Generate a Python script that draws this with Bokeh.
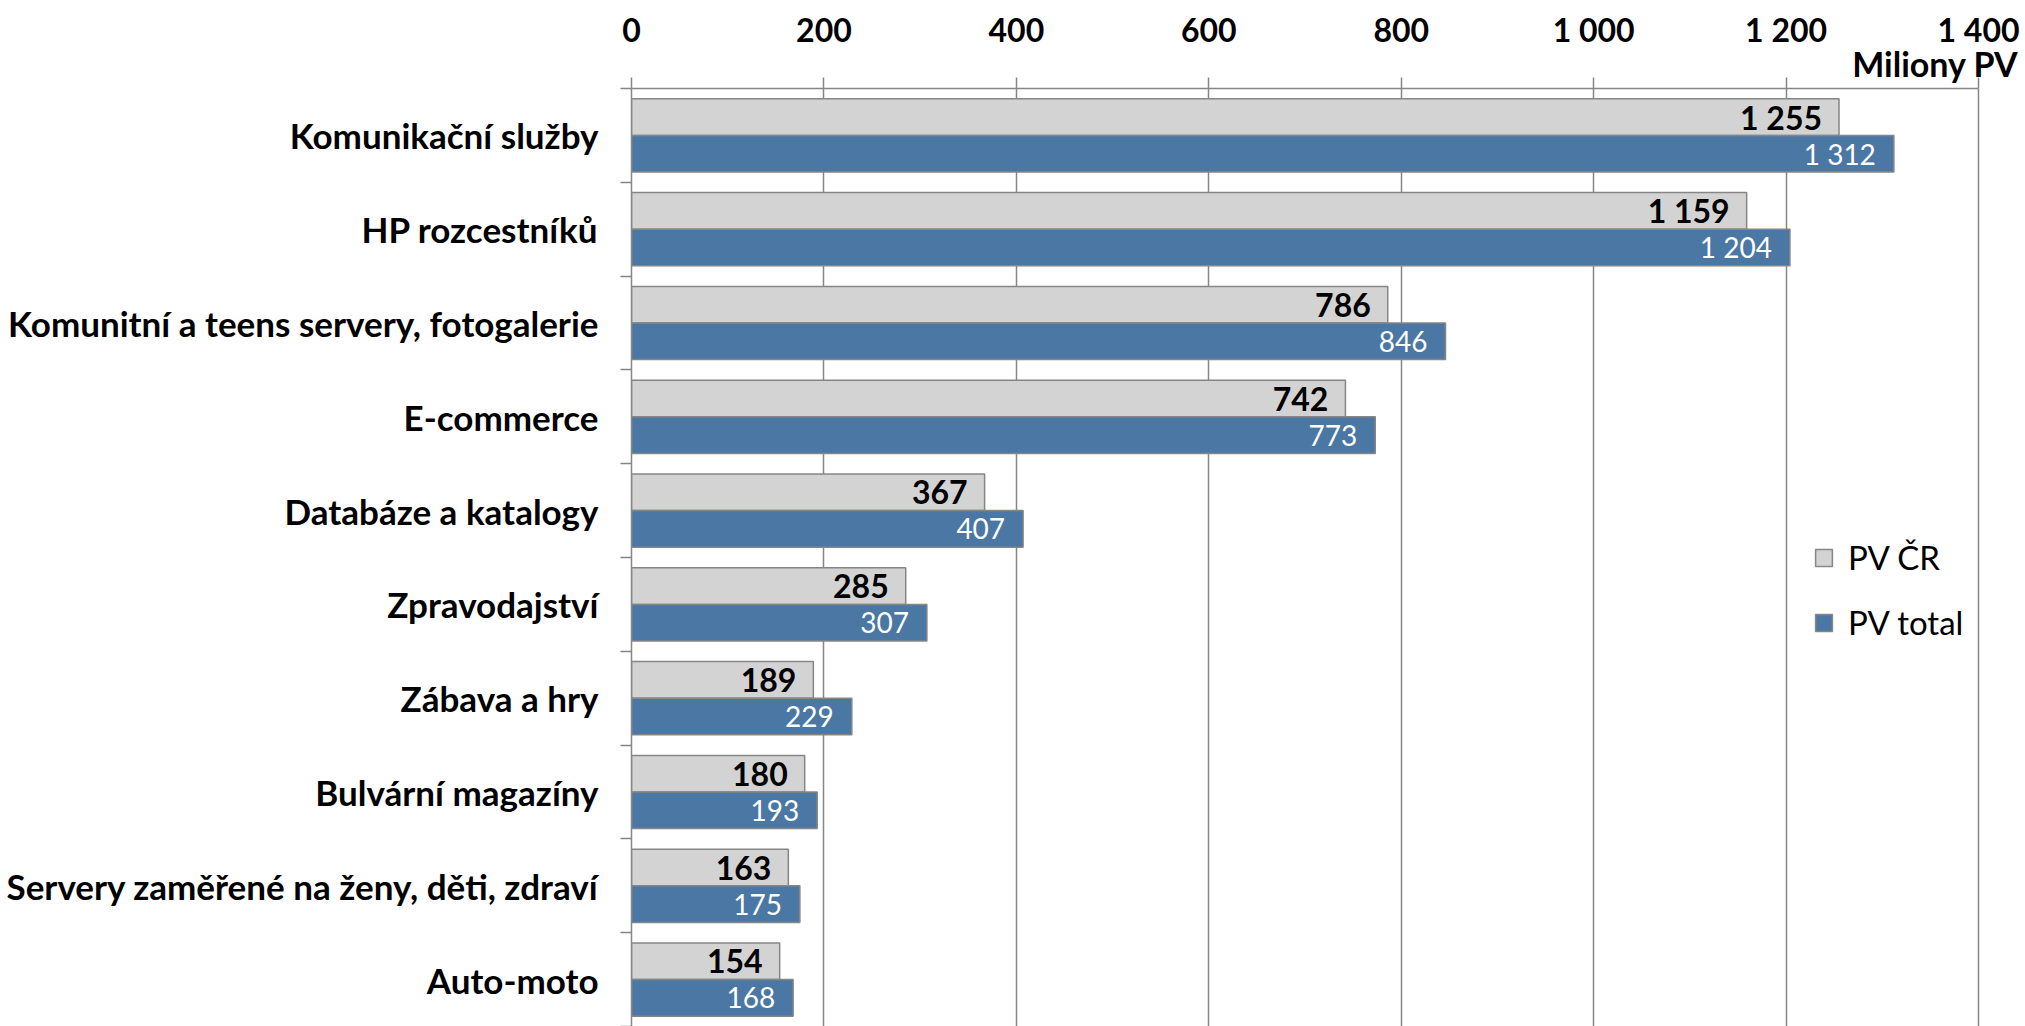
from bokeh.plotting import figure
from bokeh.models import Range1d, FixedTicker, Legend, LegendItem, ColumnDataSource, LinearAxis, Title
from bokeh.core.properties import value
from bokeh.embed import file_html
from bokeh.resources import INLINE

categories = [
    "Komunikační služby",
    "HP rozcestníků",
    "Komunitní a teens servery, fotogalerie",
    "E-commerce",
    "Databáze a katalogy",
    "Zpravodajství",
    "Zábava a hry",
    "Bulvární magazíny",
    "Servery zaměřené na ženy, děti, zdraví",
    "Auto-moto",
]
pv_cr = [1255, 1159, 786, 742, 367, 285, 189, 180, 163, 154]
pv_total = [1312, 1204, 846, 773, 407, 307, 229, 193, 175, 168]
x_ticks = [0, 200, 400, 600, 800, 1000, 1200, 1400]
series_names = ["PV ČR", "PV total"]
axis_title = "Miliony PV"

FONT = "Lato"
GRID = "#868686"
GRAY = "#D3D3D3"
BLUE = "#4A77A4"


def fmt(v):
    return f"{v:,}".replace(",", " ")


centers = [2 * i + 1 for i in range(len(categories))]

src_cr = ColumnDataSource(dict(
    y=[c - 0.39 for c in centers], v=pv_cr, lbl=[fmt(v) for v in pv_cr]))
src_tot = ColumnDataSource(dict(
    y=[c + 0.39 for c in centers], v=pv_total, lbl=[fmt(v) for v in pv_total]))

p = figure(width=2025, height=1026,
           x_range=Range1d(0, 1440.5), y_range=Range1d(20, 0),
           x_axis_location="above",
           output_backend="svg", toolbar_location=None,
           min_border_left=631, min_border_right=8,
           min_border_top=88, min_border_bottom=0)
p.outline_line_color = None
p.background_fill_color = "white"
p.border_fill_color = "white"

# grid
p.xgrid.ticker = FixedTicker(ticks=x_ticks)
p.xgrid.grid_line_color = GRID
p.xgrid.grid_line_width = 1.5
p.ygrid.grid_line_color = None

# top x axis: line and ticks (as minor ticks, so no labels)
xa = p.xaxis[0]
xa.ticker = FixedTicker(ticks=[], minor_ticks=x_ticks)
xa.bounds = (0, 1400)
xa.axis_line_color = GRID
xa.axis_line_width = 1.5
xa.major_tick_line_color = None
xa.major_tick_out = 0
xa.major_tick_in = 0
xa.minor_tick_line_color = GRID
xa.minor_tick_line_width = 1.5
xa.minor_tick_out = 11
xa.minor_tick_in = 0
xa.major_label_standoff = 0

# unit title, right-aligned, between the ticks and the tick labels
unit = Title(text=axis_title, align="right", vertical_align="top", offset=-1,
             text_font=FONT, text_font_style="bold", text_font_size="34px",
             text_color="black")
try:
    unit.standoff = -17
except Exception:
    unit.standoff = 0
p.add_layout(unit, "above")

# top x axis: tick labels
xb = LinearAxis(ticker=FixedTicker(ticks=x_ticks), bounds=(0, 1400))
xb.major_label_overrides = {t: fmt(t) for t in x_ticks}
xb.axis_line_color = None
xb.major_tick_line_color = None
xb.minor_tick_line_color = None
xb.major_tick_out = 0
xb.major_tick_in = 0
xb.minor_tick_out = 0
xb.major_label_text_font = FONT
xb.major_label_text_font_style = "bold"
xb.major_label_text_font_size = "32px"
xb.major_label_text_color = "black"
xb.major_label_standoff = 3
p.add_layout(xb, "above")

# left category axis
ya = p.yaxis[0]
ya.ticker = FixedTicker(ticks=centers, minor_ticks=[2 * i for i in range(len(categories) + 1)])
ya.major_label_overrides = {c: name for c, name in zip(centers, categories)}
ya.axis_line_color = GRID
ya.axis_line_width = 1.5
ya.major_tick_line_color = None
ya.major_tick_out = 0
ya.major_tick_in = 0
ya.minor_tick_line_color = GRID
ya.minor_tick_line_width = 1.5
ya.minor_tick_out = 11
ya.minor_tick_in = 0
ya.major_label_text_font = FONT
ya.major_label_text_font_style = "bold"
ya.major_label_text_font_size = "35px"
ya.major_label_text_color = "black"
ya.major_label_standoff = 22

r_cr = p.hbar(y="y", right="v", left=0, height=0.78, source=src_cr,
              fill_color=GRAY, line_color=GRID, line_width=1.5)
r_tot = p.hbar(y="y", right="v", left=0, height=0.78, source=src_tot,
               fill_color=BLUE, line_color=GRID, line_width=1.5)

p.text(x="v", y="y", text="lbl", source=src_cr, x_offset=-17,
       text_align="right", text_baseline="middle",
       text_font=value(FONT), text_font_style="bold",
       text_font_size="32px", text_color="black")
p.text(x="v", y="y", text="lbl", source=src_tot, x_offset=-18,
       text_align="right", text_baseline="middle",
       text_font=value(FONT), text_font_style="normal",
       text_font_size="28px", text_color="white")

legend = Legend(items=[LegendItem(label=series_names[0], renderers=[r_cr]),
                       LegendItem(label=series_names[1], renderers=[r_tot])],
                location=(1182, 384), orientation="vertical",
                padding=0, margin=0, spacing=25,
                glyph_width=21, glyph_height=21, label_height=40,
                label_standoff=14,
                label_text_font=FONT, label_text_font_size="33px",
                label_text_color="black",
                background_fill_alpha=0, border_line_alpha=0)
p.add_layout(legend, "center")

open("out.html", "w").write(file_html(p, INLINE))
